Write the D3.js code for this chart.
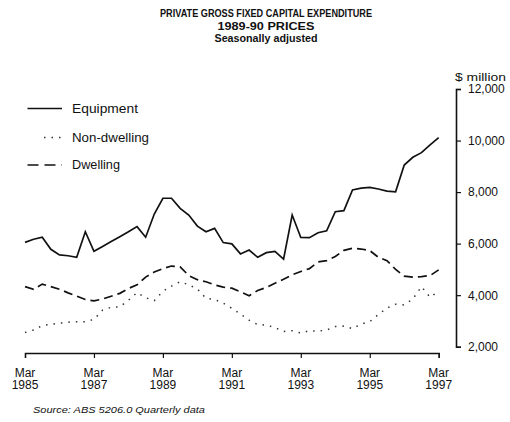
<!DOCTYPE html>
<html>
<head>
<meta charset="utf-8">
<script src="https://cdn.jsdelivr.net/npm/d3@7"></script>
<style>
  html, body { margin: 0; padding: 0; background: #fff; }
  svg { display: block; font-family: "Liberation Sans", Arial, Helvetica, sans-serif; }
</style>
</head>
<body>
<svg id="chart" width="510" height="422"></svg>
<script>
// ---- Data (quarterly, Mar 1985 .. Mar 1997), $ million, 1989-90 prices ----
const quarters = d3.range(0, 49); // index 0 = Mar 1985
const equipment = [
  6050, 6170, 6250, 5780, 5560, 5530, 5470, 6460, 5700, 5890,
  6080, 6270, 6460, 6660, 6250, 7150, 7760, 7760, 7370, 7110,
  6680, 6460, 6590, 6040, 5990, 5600, 5750, 5470, 5650, 5700,
  5400, 7110, 6240, 6230, 6420, 6500, 7240, 7280, 8080, 8150,
  8180, 8120, 8040, 8010, 9050, 9350, 9530, 9830, 10110
];
const nonDwelling = [
  2550, 2650, 2820, 2870, 2910, 2950, 2970, 2970, 3060, 3420,
  3530, 3550, 3800, 4100, 3900, 3790, 4150, 4350, 4520, 4400,
  4240, 3880, 3830, 3690, 3490, 3270, 3030, 2860, 2840, 2740,
  2590, 2620, 2530, 2620, 2600, 2650, 2780, 2800, 2700, 2880,
  2970, 3250, 3500, 3650, 3620, 3850, 4330, 3920, 4150
];
const dwelling = [
  4330, 4230, 4430, 4330, 4230, 4090, 3960, 3830, 3780, 3850,
  3960, 4070, 4260, 4400, 4700, 4900, 5030, 5130, 5100, 4760,
  4600, 4520, 4400, 4310, 4270, 4130, 3980, 4180, 4300, 4460,
  4620, 4790, 4920, 5030, 5290, 5340, 5500, 5740, 5820, 5790,
  5730, 5470, 5340, 5000, 4740, 4700, 4720, 4760, 4980
];
const seriesNames = ["Equipment", "Non-dwelling", "Dwelling"];
const xTickIndex = [0, 8, 16, 24, 32, 40, 48];
const xTickMonths = ["Mar", "Mar", "Mar", "Mar", "Mar", "Mar", "Mar"];
const xTickYears = ["1985", "1987", "1989", "1991", "1993", "1995", "1997"];
const yTicks = [2000, 4000, 6000, 8000, 10000, 12000];
const titleLines = ["PRIVATE GROSS FIXED CAPITAL EXPENDITURE", "1989-90 PRICES", "Seasonally adjusted"];
const unitLabel = "$ million";
const sourceText = "Source: ABS 5206.0 Quarterly data";

// ---- Layout ----
const svg = d3.select("#chart");
const x = d3.scaleLinear().domain([0, 48]).range([25, 438.7]);
const y = d3.scaleLinear().domain([2000, 12000]).range([346.7, 89]);
const ink = "#111";

// Title
const titleY = [16.5, 29.5, 41.5];
const titleW = [212, 97, 103];
svg.append("g").selectAll("text").data(titleLines).join("text")
  .attr("x", 266).attr("y", (d, i) => titleY[i])
  .attr("text-anchor", "middle")
  .attr("font-size", 11).attr("font-weight", "bold").attr("fill", ink)
  .attr("textLength", (d, i) => titleW[i]).attr("lengthAdjust", "spacingAndGlyphs")
  .text(d => d);

// Y axis (right)
const yAxis = svg.append("g")
  .attr("transform", "translate(456,0)")
  .call(d3.axisRight(y).tickValues(yTicks).tickSize(5).tickSizeOuter(5).tickPadding(7)
        .tickFormat(d3.format(",")));
yAxis.select(".domain").attr("stroke", ink).attr("stroke-width", 1.6);
yAxis.selectAll(".tick line").attr("stroke", ink).attr("stroke-width", 1.2);
yAxis.selectAll(".tick text").attr("font-size", 12).attr("fill", ink)
  .attr("font-family", "Liberation Sans, Arial, sans-serif");

svg.append("text").attr("x", 455).attr("y", 80.5)
  .attr("font-size", 11).attr("fill", ink)
  .attr("textLength", 51).attr("lengthAdjust", "spacingAndGlyphs")
  .text(unitLabel);

// X axis (bottom)
const xAxis = svg.append("g")
  .attr("transform", "translate(0,353)")
  .call(d3.axisBottom(x).tickValues(xTickIndex).tickSize(5).tickSizeOuter(5).tickFormat(""));
xAxis.select(".domain").attr("stroke", ink).attr("stroke-width", 1.4);
xAxis.selectAll(".tick line").attr("stroke", ink).attr("stroke-width", 1.2);

const xl = svg.append("g").selectAll("g").data(xTickIndex).join("g")
  .attr("transform", d => `translate(${x(d)},0)`);
xl.append("text").attr("y", 376.5).attr("text-anchor", "middle")
  .attr("font-size", 12).attr("fill", ink).text((d, i) => xTickMonths[i]);
xl.append("text").attr("y", 389).attr("text-anchor", "middle")
  .attr("font-size", 12).attr("fill", ink).text((d, i) => xTickYears[i]);

// Lines
const line = d3.line().x((d, i) => x(quarters[i])).y(d => y(d));
const styles = [
  { data: equipment, dash: null, width: 1.7, color: ink },
  { data: nonDwelling, dash: "1.5,6", width: 1.5, color: "#333" },
  { data: dwelling, dash: "9,5", width: 1.7, color: ink }
];
svg.append("g").selectAll("path").data(styles).join("path")
  .attr("d", s => line(s.data))
  .attr("fill", "none").attr("stroke", s => s.color)
  .attr("stroke-width", s => s.width)
  .attr("stroke-dasharray", s => s.dash);

// Legend
const legY = [108.5, 137.5, 165];
const legW = [66, 77, 48];
const leg = svg.append("g").selectAll("g").data(styles).join("g");
leg.append("line")
  .attr("x1", (s, i) => i === 1 ? 44 : 27.5).attr("x2", 62)
  .attr("y1", (s, i) => legY[i]).attr("y2", (s, i) => legY[i])
  .attr("stroke", s => s.color).attr("stroke-width", s => s.width)
  .attr("stroke-dasharray", (s, i) => i === 2 ? "11,6" : s.dash);
leg.append("text")
  .attr("x", 72).attr("y", (s, i) => legY[i] + 4)
  .attr("font-size", 12).attr("fill", ink)
  .attr("textLength", (s, i) => legW[i]).attr("lengthAdjust", "spacingAndGlyphs")
  .text((s, i) => seriesNames[i]);

// Source
svg.append("text").attr("x", 33).attr("y", 413)
  .attr("font-size", 9.5).attr("font-style", "italic").attr("fill", ink)
  .attr("textLength", 172).attr("lengthAdjust", "spacingAndGlyphs")
  .text(sourceText);
</script>
</body>
</html>
